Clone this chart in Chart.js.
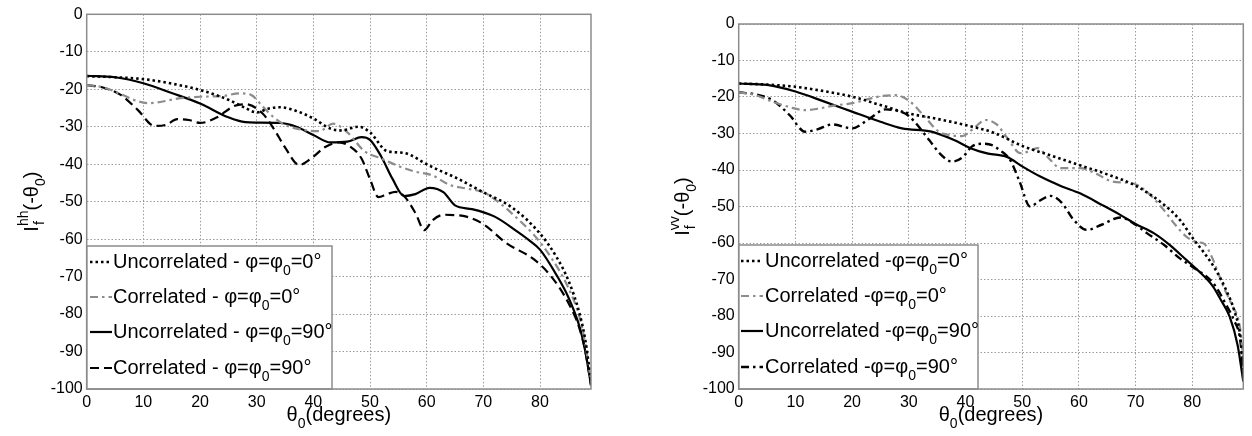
<!DOCTYPE html>
<html>
<head>
<meta charset="utf-8">
<script src="https://cdn.jsdelivr.net/npm/chart.js@4/dist/chart.umd.min.js"></script>
<style>
  html, body { margin: 0; padding: 0; background: #fff; }
  .pane { position: absolute; top: 0; width: 626px; height: 436px; }
</style>
</head>
<body>
<div class="pane" style="left:0"><canvas id="chartHH" width="626" height="436"></canvas></div>
<div class="pane" style="left:626px"><canvas id="chartVV" width="626" height="436"></canvas></div>
<script>
// ---- data (theta0 in degrees, level in dB) ----
var hhUncorr0Deg = [0,5,10,15,20,25,28,30,32,34,37,40,43,45,48,50,53,56,60,62,65,70,75,80,83,85,87,88,89];
var hhUncorr0Val = [-16.5,-16.8,-17.3,-18.5,-20.2,-22.8,-25,-26.2,-25.2,-24.8,-25.8,-27.8,-30.5,-31,-30,-31.5,-36.5,-37,-40,-41.5,-43.5,-47.5,-51.5,-58.5,-65,-71,-80,-87,-98];

var hhCorr0Deg = [0,3,6,9,11,13,16,20,24,27,29,31,33,35,38,41,43.5,46,49,52,55,58,61,64,67,70,73,76,79,82,85,87,88,89];
var hhCorr0Val = [-18.9,-19.5,-21.3,-23.2,-23.7,-23.4,-22.5,-22,-21.8,-21.1,-21.5,-24.5,-27.5,-29.5,-30.8,-31.2,-29.2,-31.5,-36.5,-38.5,-40.5,-42,-43,-45.5,-46.5,-47.5,-50.5,-54.5,-59,-65,-73,-81,-88,-98];

var hhUncorr90Deg = [0,5,10,15,20,25,28,30,34,37,40,43,46,48.5,50,52,54,56,58,60.5,63,65,68,72,76,78,80,83,85,87,88,89];
var hhUncorr90Val = [-16.4,-16.8,-18.4,-21,-23.8,-27.5,-28.8,-28.9,-29,-30,-32.2,-34.2,-34,-32.8,-33.5,-38,-44,-48.5,-48,-46.3,-47.5,-51,-52,-54,-58,-60.2,-62.8,-69.8,-75.5,-83.5,-90,-99];

var hhCorr90Deg = [0,3,6,9,12,14,16,18,20,23,26,28,31,33,35,37.5,40,42,44.5,46.5,48.5,50,51.5,53,54.5,56,58,59.6,61,63,65,67,70,74,79,82,85,87,88,89];
var hhCorr90Val = [-18.9,-19.6,-21.5,-25.5,-29.8,-29.5,-28,-28.2,-29,-27.5,-24.5,-24,-26.4,-30.5,-35.5,-40.2,-38,-35.5,-34.2,-35.3,-38.5,-44,-48.8,-48,-47.4,-48.5,-53,-57.6,-55,-53.5,-53.6,-54,-56,-61,-65.5,-70,-77,-84,-90,-99];

var vvUncorr0Deg = [0,5,10,15,20,25,30,35,40,45,50,55,60,65,70,75,78,80,82,84,86,87.5,88.5,89];
var vvUncorr0Val = [-16.3,-16.6,-17.2,-18.4,-19.9,-22.2,-24.5,-26,-27.7,-29.8,-33.4,-36,-38.6,-41.2,-44.3,-49.5,-54,-58.5,-62.5,-67,-73,-79,-86,-96];

var vvCorr0Deg = [0,3,6,9,11.7,14,17,20,23,25,27.6,30,32.3,35.3,37.5,39.4,41.5,43.5,45.5,47.5,49.7,51,52.7,54.5,56.8,60.2,63,66,69.6,72,75,77,79,81,82,83.5,85.5,87,88.4,89];
var vvCorr0Val = [-18.7,-19.5,-21.3,-22.8,-23.6,-23.2,-22.3,-21.7,-20.5,-19.8,-19.5,-21,-24.5,-29.5,-30.5,-30.7,-28.5,-26.3,-27.5,-31.5,-35.4,-35,-34,-36.5,-39.5,-39.5,-41,-43.2,-43.7,-46,-51,-55,-58.3,-59.8,-60.1,-64,-72,-77,-83,-92];

var vvUncorr90Deg = [0,5,10,15,20,25,28.8,34,38,41,44,47.3,50,53.2,57,60.2,64,67.3,70,73.2,76,79,81,83.7,85,86.6,88,89];
var vvUncorr90Val = [-16.3,-16.7,-18.5,-21.2,-24,-26.8,-28.6,-29.5,-31.8,-34.1,-35.5,-36.4,-39,-41.8,-44.5,-46.4,-49.5,-52.3,-54.8,-57.3,-60.5,-64.7,-67.5,-72,-75.5,-80.2,-88,-98];

var vvCorr90Deg = [0,3,5.9,9,11.7,14,16.5,20,23,25.9,28,30,33.6,35.5,37.6,39.5,41.1,43,44.7,46,47.9,49.5,51.4,53,55,57,59,61.4,64,67.3,70,72,75,77.8,80,83.7,86,87.3,88.5,89];
var vvCorr90Val = [-18.7,-19.3,-20.8,-25,-29.5,-28.8,-27.5,-28.6,-26,-23.4,-23.8,-25.2,-31.8,-35.5,-37.7,-36.5,-33.6,-32.8,-33.2,-34.5,-37.3,-43,-50,-48.5,-47.1,-49,-53.5,-56.4,-55,-53,-55,-57.3,-60.5,-64.2,-66.5,-71,-77,-81,-87,-96];

var hhLabels = ['Uncorrelated - φ=φ0=0°', 'Correlated - φ=φ0=0°', 'Uncorrelated - φ=φ0=90°', 'Correlated - φ=φ0=90°'];
var vvLabels = ['Uncorrelated -φ=φ0=0°', 'Correlated -φ=φ0=0°', 'Uncorrelated -φ=φ0=90°', 'Correlated -φ=φ0=90°'];

var xTicksMax = 89;
var yTicksMin = -100;

// ---- styles ----
var FONT = 'Liberation Sans, Arial, sans-serif';
Chart.defaults.font.family = FONT;
Chart.defaults.font.size = 16;
Chart.defaults.color = '#000';

var lineStyles = {
  dotted:       { borderColor: '#000',    borderWidth: 2.6, borderDash: [2.5, 3] },
  grayDashDot:  { borderColor: '#8c8c8c', borderWidth: 2.2, borderDash: [8, 4, 2.5, 4] },
  solid:        { borderColor: '#000',    borderWidth: 2.2, borderDash: [] },
  dashed:       { borderColor: '#000',    borderWidth: 2.2, borderDash: [9, 5] },
  blackDashDot: { borderColor: '#000',    borderWidth: 2.4, borderDash: [8, 4, 2.5, 4] }
};

function pts(xs, ys) {
  return xs.map(function (x, i) { return { x: x, y: ys[i] }; });
}

function makeSet(label, xs, ys, style) {
  return Object.assign({
    label: label,
    data: pts(xs, ys),
    pointRadius: 0,
    fill: false,
    cubicInterpolationMode: 'monotone',
    borderCapStyle: 'butt'
  }, lineStyles[style]);
}

// text pieces: {t, k} with k = '' | 'sub' | 'sup' | 'both' (t sup, b sub)
function measureParts(ctx, parts) {
  var w = 0;
  parts.forEach(function (p) {
    if (p.k === 'sub' || p.k === 'sup') { ctx.font = '14px ' + FONT; w += ctx.measureText(p.t).width; }
    else if (p.k === 'both') { ctx.font = '14px ' + FONT; w += Math.max(ctx.measureText(p.t).width, ctx.measureText(p.b).width); }
    else { ctx.font = '20px ' + FONT; w += ctx.measureText(p.t).width; }
  });
  return w;
}

function drawParts(ctx, parts, x, y) {
  var cx = x;
  ctx.textAlign = 'left';
  ctx.textBaseline = 'alphabetic';
  parts.forEach(function (p) {
    if (p.k === 'sub') {
      ctx.font = '14px ' + FONT; ctx.fillText(p.t, cx, y + 7); cx += ctx.measureText(p.t).width;
    } else if (p.k === 'sup') {
      ctx.font = '14px ' + FONT; ctx.fillText(p.t, cx, y - 10); cx += ctx.measureText(p.t).width;
    } else if (p.k === 'both') {
      ctx.font = '14px ' + FONT;
      ctx.fillText(p.t, cx, y - 10);
      ctx.fillText(p.b, cx + 1, y + 6);
      cx += Math.max(ctx.measureText(p.t).width, ctx.measureText(p.b).width);
    } else {
      ctx.font = '20px ' + FONT; ctx.fillText(p.t, cx, y); cx += ctx.measureText(p.t).width;
    }
  });
}

function labelParts(label) {
  var i = label.indexOf('φ0');
  return [{ t: label.slice(0, i + 1), k: '' }, { t: '0', k: 'sub' }, { t: label.slice(i + 2), k: '' }];
}

var figurePlugin = {
  id: 'figure',
  afterDatasetsDraw: function (chart, args, o) {
    var ctx = chart.ctx, a = chart.chartArea;
    ctx.save();
    // legend box in the lower-left corner
    var lg = o.legend;
    ctx.fillStyle = '#fff';
    ctx.fillRect(a.left, lg.top, lg.right - a.left, a.bottom - lg.top);
    ctx.strokeStyle = '#8c8c8c';
    ctx.lineWidth = 1.5;
    ctx.strokeRect(a.left, lg.top, lg.right - a.left, a.bottom - lg.top);
    chart.data.datasets.forEach(function (ds, i) {
      var by = lg.rows[i];
      ctx.beginPath();
      ctx.setLineDash(ds.borderDash);
      ctx.strokeStyle = ds.borderColor;
      ctx.lineWidth = ds.borderWidth;
      ctx.moveTo(lg.sx0, by - 6);
      ctx.lineTo(lg.sx1, by - 6);
      ctx.stroke();
      ctx.setLineDash([]);
      ctx.fillStyle = '#000';
      drawParts(ctx, labelParts(ds.label), lg.tx, by);
    });
    // plot frame
    ctx.strokeStyle = '#8c8c8c';
    ctx.lineWidth = 1.5;
    ctx.strokeRect(a.left, a.top, a.right - a.left, a.bottom - a.top);
    ctx.restore();
  },
  afterDraw: function (chart, args, o) {
    var ctx = chart.ctx, a = chart.chartArea;
    ctx.save();
    ctx.fillStyle = '#000';
    // x title
    var xp = [{ t: 'θ', k: '' }, { t: '0', k: 'sub' }, { t: '(degrees)', k: '' }];
    var xw = measureParts(ctx, xp);
    drawParts(ctx, xp, (a.left + a.right) / 2 - xw / 2, o.xTitleY);
    // y title, rotated, centred on the plot area
    var yp = [{ t: 'I', k: '' }, { t: o.pol, b: 'f', k: 'both' }, { t: '(-θ', k: '' }, { t: '0', k: 'sub' }, { t: ')', k: '' }];
    var yw = measureParts(ctx, yp);
    ctx.translate(o.yTitleX, (a.top + a.bottom) / 2);
    ctx.rotate(-Math.PI / 2);
    drawParts(ctx, yp, -yw / 2, 0);
    ctx.restore();
  }
};

function buildChart(id, sets, axisWidth, topPad, rightPad, figOpts) {
  return new Chart(document.getElementById(id), {
    type: 'line',
    data: { datasets: sets },
    plugins: [figurePlugin],
    options: {
      responsive: false,
      animation: false,
      layout: { padding: { left: 0, top: topPad, right: rightPad, bottom: 0 } },
      plugins: { legend: { display: false }, tooltip: { enabled: false }, figure: figOpts },
      scales: {
        x: {
          type: 'linear', min: 0, max: xTicksMax,
          ticks: { stepSize: 10, includeBounds: false, padding: 4, maxRotation: 0 },
          grid: { color: '#9a9a9a', lineWidth: 1, drawTicks: false },
          border: { display: false, dash: [1.5, 2] },
          afterFit: function (s) { s.height = 47; }
        },
        y: {
          min: yTicksMin, max: 0,
          ticks: { stepSize: 10, padding: 4 },
          grid: { color: '#9a9a9a', lineWidth: 1, drawTicks: false },
          border: { display: false, dash: [1.5, 2] },
          afterFit: function (s) { s.width = axisWidth; }
        }
      }
    }
  });
}

buildChart('chartHH', [
  makeSet(hhLabels[0], hhUncorr0Deg, hhUncorr0Val, 'dotted'),
  makeSet(hhLabels[1], hhCorr0Deg, hhCorr0Val, 'grayDashDot'),
  makeSet(hhLabels[2], hhUncorr90Deg, hhUncorr90Val, 'solid'),
  makeSet(hhLabels[3], hhCorr90Deg, hhCorr90Val, 'dashed')
], 86.7, 14.3, 35, {
  legend: { top: 246, right: 332, sx0: 90, sx1: 112, tx: 113, rows: [268, 303, 338, 374] },
  xTitleY: 421, yTitleX: 38, pol: 'hh'
});

buildChart('chartVV', [
  makeSet(vvLabels[0], vvUncorr0Deg, vvUncorr0Val, 'dotted'),
  makeSet(vvLabels[1], vvCorr0Deg, vvCorr0Val, 'grayDashDot'),
  makeSet(vvLabels[2], vvUncorr90Deg, vvUncorr90Val, 'solid'),
  makeSet(vvLabels[3], vvCorr90Deg, vvCorr90Val, 'blackDashDot')
], 112.7, 24, 8.7, {
  legend: { top: 245, right: 352, sx0: 115, sx1: 137, tx: 139, rows: [267, 302, 337, 373] },
  xTitleY: 421, yTitleX: 63, pol: 'vv'
});
</script>
</body>
</html>
